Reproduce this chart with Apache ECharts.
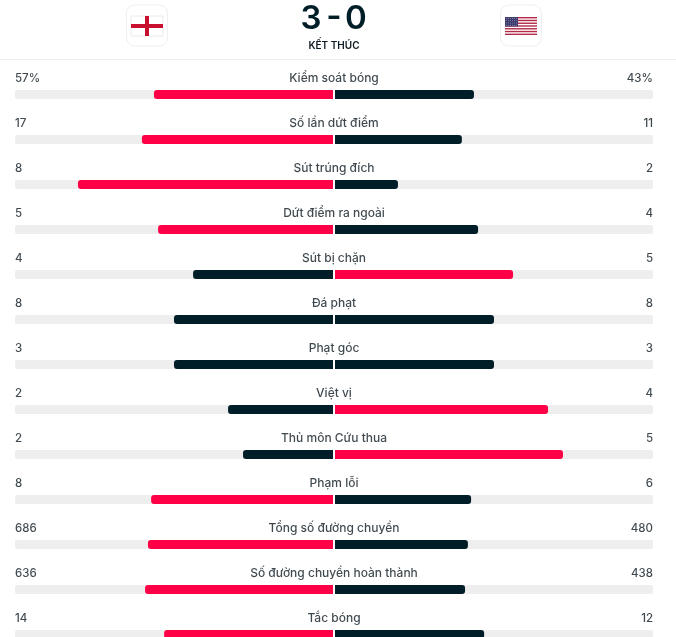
<!DOCTYPE html>
<html>
<head>
    <title>Thống kê trận đấu</title>
    <meta charset="utf-8">
    <script src="https://cdn.jsdelivr.net/npm/echarts@6/dist/echarts.min.js"></script>
</head>
<body style="margin: 0; background: #fff; height: 637px; overflow: hidden">
<!-- last row runs past the bottom of the window, so the canvas is taller than the page -->
<div id="container" style="width: 676px; height: 670px"></div>
<script type="text/javascript">
    var statNames = ['Kiểm soát bóng', 'Số lần dứt điểm', 'Sút trúng đích', 'Dứt điểm ra ngoài', 'Sút bị chặn', 'Đá phạt', 'Phạt góc', 'Việt vị', 'Thủ môn Cứu thua', 'Phạm lỗi', 'Tổng số đường chuyền', 'Số đường chuyền hoàn thành', 'Tắc bóng'];
    var homeLabels = ['57%', '17', '8', '5', '4', '8', '3', '2', '2', '8', '686', '636', '14'];
    var awayLabels = ['43%', '11', '2', '4', '5', '8', '3', '4', '5', '6', '480', '438', '12'];
    // bar lengths, % of the half track
    var homeBars = [56.3, 60.1, 80.2, 55, 44, 50, 50, 33, 28.3, 57.2, 58.2, 59.1, 53.1];
    var awayBars = [43.7, 39.9, 19.8, 45, 56, 50, 50, 67, 71.7, 42.8, 41.8, 40.9, 46.9];

    var RED = '#ff0046';
    var DARK = '#001e28';
    var TEXT = '#0e1a22';
    var FONT = 'Inter';
    var ROW_H = 45;
    var rowCount = statNames.length;

    var myChart = echarts.init(document.getElementById('container'));

    function barColor(mine, other) {
        return mine > other ? RED : DARK;
    }

    function textRow(x, labels, align, size) {
        return {
            type: 'scatter',
            xAxisIndex: 2,
            yAxisIndex: 2,
            symbolSize: 1,
            silent: true,
            itemStyle: {color: 'transparent'},
            data: labels.map(function (t, i) {
                return {
                    value: [x, i],
                    label: {formatter: t}
                };
            }),
            label: {
                show: true,
                position: 'inside',
                align: align,
                verticalAlign: 'middle',
                offset: [0, -16],
                fontFamily: FONT,
                fontSize: size,
                fontWeight: 500,
                color: TEXT
            }
        };
    }

    // small flags in the header, decoration only
    function flagBox(x) {
        return {
            type: 'rect',
            shape: {x: x, y: 5, width: 41, height: 41, r: 8},
            style: {fill: '#fff', stroke: '#efefef', lineWidth: 1}
        };
    }

    var header = [
        flagBox(126.5),
        flagBox(500.5),
        {type: 'rect', shape: {x: 131, y: 16, width: 32, height: 20}, style: {fill: '#fff', stroke: '#eaeaea', lineWidth: 1}},
        {type: 'rect', shape: {x: 131, y: 24, width: 32, height: 4}, style: {fill: '#c8102e'}},
        {type: 'rect', shape: {x: 145, y: 16, width: 4, height: 20}, style: {fill: '#c8102e'}},
        {type: 'rect', shape: {x: 505, y: 17, width: 32, height: 18}, style: {fill: '#fff'}}
    ];
    for (var s = 0; s < 7; s++) {
        var sy = 17 + s * 18 / 6.5;
        header.push({type: 'rect', shape: {x: 505, y: sy, width: 32, height: 1.4}, style: {fill: '#b22a46'}});
    }
    header.push({type: 'rect', shape: {x: 505, y: 17, width: 13, height: 9.5}, style: {fill: '#3c3b6e'}});
    for (var c = 0; c < 6; c++) {
        for (var r = 0; r < 4; r++) {
            header.push({type: 'circle', shape: {cx: 506.2 + c * 2.1, cy: 18.3 + r * 2.3, r: 0.45}, style: {fill: '#d8d8e8'}});
        }
    }
    header.push(
        {type: 'text', x: 311, y: 19, style: {text: '3', font: '600 33px Inter', fill: DARK, textAlign: 'center', textVerticalAlign: 'middle'}},
        {type: 'text', x: 334, y: 17, style: {text: '-', font: '600 33px Inter', fill: DARK, textAlign: 'center', textVerticalAlign: 'middle'}},
        {type: 'text', x: 356, y: 19, style: {text: '0', font: '600 33px Inter', fill: DARK, textAlign: 'center', textVerticalAlign: 'middle'}},
        {type: 'text', x: 334, y: 46, style: {text: 'KẾT THÚC', font: '600 10px Inter', fill: TEXT, textAlign: 'center', textVerticalAlign: 'middle'}},
        {type: 'rect', shape: {x: 0, y: 59, width: 676, height: 1}, style: {fill: '#efefef'}}
    );

    var gridTop = 72;
    var gridHeight = ROW_H * rowCount;

    myChart.setOption({
        animation: false,
        backgroundColor: '#fff',
        graphic: {elements: header},
        grid: [
            {left: 15, top: gridTop, width: 318, height: gridHeight},
            {left: 335, top: gridTop, width: 318, height: gridHeight},
            {left: 15, top: gridTop, width: 638, height: gridHeight}
        ],
        xAxis: [
            {type: 'value', gridIndex: 0, min: 0, max: 100, inverse: true, show: false},
            {type: 'value', gridIndex: 1, min: 0, max: 100, show: false},
            {type: 'value', gridIndex: 2, min: 0, max: 100, show: false}
        ],
        yAxis: [
            {type: 'category', gridIndex: 0, data: statNames, inverse: true, show: false},
            {type: 'category', gridIndex: 1, data: statNames, inverse: true, show: false},
            {type: 'category', gridIndex: 2, data: statNames, inverse: true, show: false}
        ],
        series: [
            {
                type: 'bar',
                xAxisIndex: 0,
                yAxisIndex: 0,
                barWidth: 9,
                showBackground: true,
                backgroundStyle: {color: '#eeeeee', borderRadius: [2, 0, 0, 2]},
                data: homeBars.map(function (v, i) {
                    return {value: v, itemStyle: {color: barColor(v, awayBars[i]), borderRadius: [3, 0, 0, 3]}};
                })
            },
            {
                type: 'bar',
                xAxisIndex: 1,
                yAxisIndex: 1,
                barWidth: 9,
                showBackground: true,
                backgroundStyle: {color: '#eeeeee', borderRadius: [0, 2, 2, 0]},
                data: awayBars.map(function (v, i) {
                    return {value: v, itemStyle: {color: barColor(v, homeBars[i]), borderRadius: [0, 3, 3, 0]}};
                })
            },
            textRow(0, homeLabels, 'left', 11.5),
            textRow(50, statNames, 'center', 12),
            textRow(100, awayLabels, 'right', 11.5)
        ]
    });
</script>
</body>
</html>
